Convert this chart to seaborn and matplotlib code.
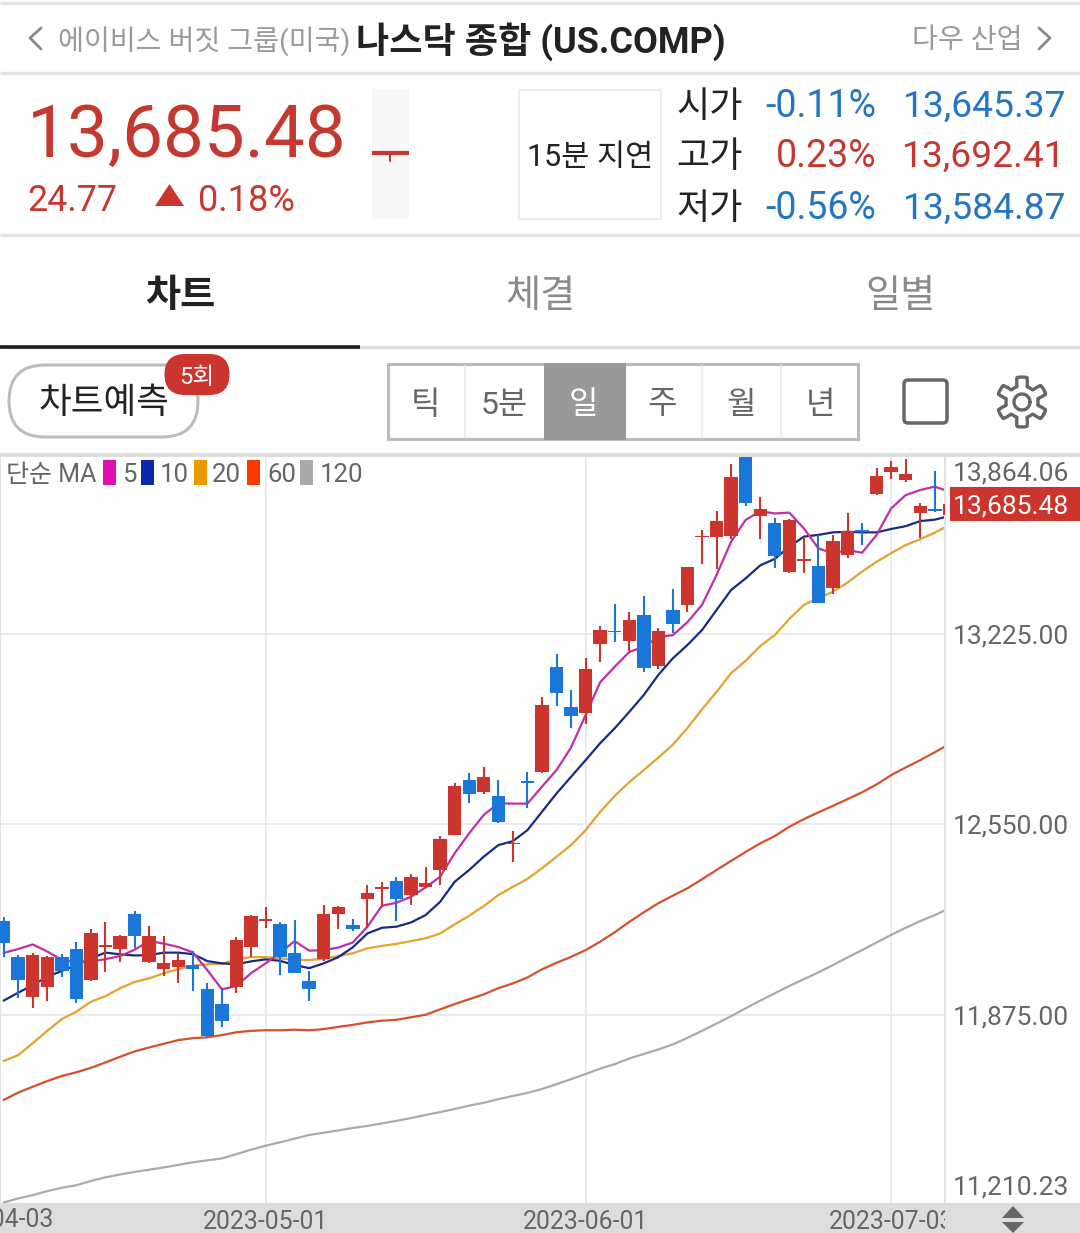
import numpy as np
import matplotlib
matplotlib.use('Agg')
import matplotlib.pyplot as plt
from matplotlib.patches import Rectangle, FancyBboxPatch, Polygon
import seaborn as sns

# daily candles, 2023-04-04 onwards
opens = [12207, 12081, 11940, 11975, 12079, 12110, 11999, 12117, 12109, 12234, 12064, 12039, 12046, 12052, 11968, 11913,
         11973, 12117, 12208, 12197, 12096, 11996, 12072, 12233, 12195, 12287, 12322, 12350, 12300, 12327, 12389, 12514,
         12707, 12664, 12651, 12481, 12704, 12736, 13107, 12965, 12946, 13190, 13235, 13200, 13293, 13112, 13311, 13328,
         13567, 13570, 13573, 13894, 13643, 13619, 13443, 13484, 13467, 13389, 13506, 13593, 13720, 13800, 13770, 13652,
         13667, 13645]
highs = [12223, 12087, 12096, 12084, 12090, 12132, 12179, 12204, 12158, 12244, 12190, 12155, 12093, 12103, 11989, 11966,
         12152, 12228, 12259, 12205, 12211, 12032, 12265, 12263, 12214, 12337, 12345, 12363, 12374, 12400, 12511, 12696,
         12731, 12755, 12707, 12528, 12736, 13000, 13153, 13026, 13139, 13254, 13330, 13304, 13360, 13247, 13384, 13463,
         13593, 13660, 13826, 13930, 13709, 13636, 13631, 13567, 13576, 13576, 13652, 13617, 13814, 13838, 13844, 13688,
         13803, 13692]
lows = [12081, 11934, 11901, 11926, 12011, 11916, 11995, 12027, 12064, 12111, 12060, 12013, 11987, 11961, 11798, 11833,
        11952, 12079, 12182, 12017, 12023, 11926, 12067, 12179, 12174, 12182, 12259, 12209, 12265, 12325, 12335, 12512,
        12625, 12657, 12554, 12416, 12607, 12731, 12970, 12891, 12905, 13127, 13195, 13165, 13090, 13101, 13227, 13302,
        13473, 13456, 13561, 13679, 13561, 13460, 13441, 13442, 13334, 13367, 13494, 13540, 13717, 13773, 13764, 13566,
        13658, 13585]
closes = [12129, 11999, 12087, 12081, 12032, 11931, 12164, 12123, 12156, 12154, 12156, 12058, 12071, 12038, 11800, 11855,
          12141, 12226, 12214, 12079, 12025, 11968, 12233, 12256, 12181, 12306, 12328, 12285, 12364, 12341, 12498, 12687,
          12658, 12719, 12560, 12485, 12698, 12974, 13017, 12935, 13100, 13239, 13231, 13274, 13105, 13236, 13259, 13461,
          13572, 13625, 13781, 13690, 13667, 13502, 13629, 13491, 13336, 13554, 13589, 13586, 13785, 13815, 13791, 13677,
          13660, 13685]

ma5 = [12095, 12109, 12125, 12100, 12070, 12063, 12064, 12073, 12084, 12106, 12137, 12128, 12116, 12097, 12034, 11966,
       11978, 12023, 12058, 12095, 12137, 12103, 12105, 12114, 12132, 12188, 12262, 12273, 12294, 12327, 12365, 12448,
       12519, 12584, 12625, 12624, 12624, 12684, 12743, 12823, 12938, 13054, 13109, 13161, 13180, 13214, 13221, 13267,
       13328, 13434, 13552, 13629, 13660, 13652, 13655, 13599, 13528, 13511, 13522, 13513, 13576, 13670, 13717, 13735,
       13747, 13729]
ma10 = [11926, 11954, 11981, 12011, 12031, 12052, 12076, 12096, 12090, 12086, 12087, 12096, 12096, 12091, 12066, 12058,
        12055, 12065, 12072, 12067, 12052, 12041, 12058, 12080, 12115, 12164, 12184, 12188, 12203, 12229, 12276, 12347,
        12389, 12436, 12477, 12491, 12530, 12595, 12660, 12719, 12778, 12838, 12891, 12949, 13009, 13080, 13139, 13186,
        13239, 13310, 13381, 13422, 13468, 13491, 13534, 13570, 13576, 13585, 13587, 13585, 13585, 13597, 13607, 13625,
        13630, 13643]
ma20 = [11712, 11733, 11775, 11819, 11861, 11887, 11922, 11942, 11970, 11992, 12005, 12023, 12038, 12049, 12055, 12057,
        12072, 12080, 12080, 12076, 12070, 12070, 12074, 12084, 12094, 12111, 12120, 12127, 12137, 12147, 12164, 12196,
        12227, 12261, 12300, 12329, 12357, 12395, 12436, 12477, 12530, 12595, 12651, 12700, 12743, 12787, 12833, 12892,
        12958, 13020, 13086, 13130, 13182, 13221, 13278, 13328, 13352, 13375, 13407, 13446, 13481, 13511, 13540, 13561,
        13584, 13611]
ma60 = [11574, 11600, 11621, 11641, 11659, 11672, 11688, 11707, 11727, 11746, 11760, 11773, 11786, 11793, 11796, 11804,
        11814, 11819, 11821, 11821, 11823, 11821, 11825, 11833, 11840, 11849, 11855, 11858, 11867, 11876, 11895, 11914,
        11931, 11948, 11970, 11987, 12008, 12037, 12060, 12081, 12105, 12135, 12168, 12205, 12239, 12271, 12298, 12324,
        12356, 12389, 12421, 12453, 12483, 12509, 12542, 12569, 12593, 12616, 12640, 12664, 12692, 12725, 12752, 12778,
        12806, 12835]
ma120 = [11211, 11225, 11237, 11251, 11263, 11272, 11287, 11300, 11310, 11319, 11327, 11335, 11344, 11353, 11360, 11367,
         11382, 11398, 11412, 11424, 11437, 11450, 11458, 11466, 11475, 11482, 11491, 11500, 11510, 11521, 11531, 11542,
         11554, 11564, 11577, 11588, 11599, 11613, 11630, 11648, 11666, 11685, 11701, 11721, 11737, 11753, 11771, 11794,
         11819, 11845, 11871, 11899, 11926, 11952, 11978, 12002, 12026, 12052, 12079, 12105, 12132, 12159, 12184, 12208,
         12229, 12253]

price_ticks = [13225, 12550, 11875]
price_labels = ['13,225.00', '12,550.00', '11,875.00']
date_ticks = [18, 40, 61]
date_labels = ['2023-05-01', '2023-06-01', '2023-07-03']
ma_periods = ['5', '10', '20', '60', '120']

RED = '#cb352d'
BLUE = '#1a76d8'
TXT_BLUE = '#2475c4'
TXT_RED = '#c5382f'
DARK = '#222222'
GRAY_TXT = '#9a9a9a'
AXIS_TXT = '#666666'
LINE = '#e4e4e4'
ma_colors = ['#c02fa8', '#172c82', '#e2a332', '#d6502b', '#aaaaaa']
legend_colors = ['#e010b0', '#0a28a8', '#ea9a00', '#ff3a00', '#aaaaaa']

sns.set_style('white')
plt.rcParams['font.family'] = ['Roboto', 'Noto Sans CJK KR', 'DejaVu Sans']

W, H = 1080, 1233
fig = plt.figure(figsize=(W / 100, H / 100), dpi=100, facecolor='white')


def px_axes(z):
    a = fig.add_axes([0, 0, 1, 1], zorder=z)
    a.set_xlim(0, W)
    a.set_ylim(H, 0)
    a.axis('off')
    a.patch.set_alpha(0)
    return a


back = px_axes(0)
back.add_patch(Rectangle((0, 1203), W, 30, color='#dddddd', lw=0))

# ── chart ──
ax = fig.add_axes([0, 1 - 1203 / H, 945 / W, 746 / H], zorder=1)
ax.patch.set_alpha(0)
idx = np.arange(len(opens))
for ma, c in zip([ma120, ma60, ma20, ma10, ma5], ma_colors[::-1]):
    sns.lineplot(x=idx, y=ma, color=c, linewidth=1.6, ax=ax, legend=False, zorder=2)

o = np.array(opens)
cl = np.array(closes)
colors = [RED if c >= op else BLUE for op, c in zip(o, cl)]
ax.vlines(idx, lows, highs, colors=colors, linewidth=1.5, zorder=3)
ax.bar(idx, np.abs(cl - o), bottom=np.minimum(o, cl), width=0.92, color=colors, linewidth=0, zorder=4)

ax.set_xlim(-0.25, 64.7)
ax.set_ylim(11209, 13852)
ax.yaxis.tick_right()
ax.set_yticks(price_ticks, price_labels, fontsize=19, color=AXIS_TXT)
ax.set_xticks(date_ticks, date_labels, fontsize=17.9, color=AXIS_TXT)
ax.tick_params(axis='y', length=0, pad=5.5)
ax.tick_params(axis='x', length=0, pad=5)
ax.grid(True, color='#e6e6e6', linewidth=1.1, zorder=0)
for name, sp in ax.spines.items():
    sp.set_visible(name in ('left', 'right'))
    sp.set_color('#e2e2e2')
    sp.set_linewidth(1.4)
ax.text(-0.8, -0.0228, '2023-04-03', transform=ax.get_xaxis_transform(), ha='center', va='center',
        fontsize=17.9, color=AXIS_TXT, clip_on=False)

# ── screen furniture, in pixels ──
ui = px_axes(2)


def hline(y, x0, x1, color=LINE, lw=2.2):
    ui.plot([x0, x1], [y, y], color=color, lw=lw, solid_capstyle='butt')


def txt(x, y, s, size, color=DARK, ha='left', **kw):
    ui.text(x, y, s, fontsize=size, color=color, ha=ha, va='center_baseline', **kw)


ui.add_patch(Rectangle((945, 1203), 135, 30, color='#dddddd', lw=0))
hline(3, 0, W, lw=2.4)
hline(73, 0, W, lw=2.4)
hline(235, 0, W, lw=2.4)
hline(347, 0, W, color='#dddddd', lw=2.4)
hline(347, 0, 360, color='#1e1e1e', lw=2.6)
hline(455, 0, W, color='#dddddd', lw=2.8)

# top bar
ui.plot([41, 30, 41], [28, 38, 49], color='#8a8a8a', lw=2)
ui.plot([1039, 1050, 1039], [28, 38, 49], color='#8a8a8a', lw=2)
txt(58, 38, '에이비스 버짓 그룹(미국)', 20.3, GRAY_TXT)
txt(356, 37, '나스닥 종합 (US.COMP)', 26, DARK, fontweight='bold')
txt(912, 38, '다우 산업', 20.3, GRAY_TXT)

# quote block
txt(27, 130, '13,685.48', 52.4, TXT_RED)
txt(27, 197, '24.77', 25.8, TXT_RED)
ui.add_patch(Polygon([[155, 206], [184, 206], [169.5, 184]], color=RED, lw=0))
txt(198, 197, '0.18%', 26, TXT_RED)
ui.add_patch(Rectangle((372, 89), 37, 130, color='#f7f7f7', lw=0))
hline(153, 372, 409, color=RED, lw=3)
ui.plot([390, 390], [153, 161], color=RED, lw=1.5)
ui.add_patch(Rectangle((519, 90), 142, 129, fc='white', ec='#eeeeee', lw=1.6))
txt(590, 155, '15분 지연', 22, DARK, ha='center')
rows = [(103, '시가', '-0.11%', '13,645.37', TXT_BLUE), (153, '고가', '0.23%', '13,692.41', TXT_RED),
        (205, '저가', '-0.56%', '13,584.87', TXT_BLUE)]
for y, name, pct, val, c in rows:
    txt(676, y + 0.5, name, 26, DARK)
    txt(876, y - 0.5, pct, 27, c, ha='right')
    txt(1066, y - 0.5, val, 26.8, c, ha='right')

# tabs
txt(180, 292, '차트', 27.5, DARK, ha='center', fontweight='bold')
txt(540, 292, '체결', 27.5, '#8a8a8a', ha='center')
txt(900, 292, '일별', 27.5, '#8a8a8a', ha='center')

# forecast pill and badge
ui.add_patch(FancyBboxPatch((45, 401), 117, 0, boxstyle='round,pad=36,rounding_size=36', fc='white', ec='#bdbdbd', lw=2.2))
txt(104, 399, '차트예측', 25.6, DARK, ha='center')
ui.add_patch(FancyBboxPatch((185, 374.5), 24, 0, boxstyle='round,pad=20.5,rounding_size=20.5', fc=RED, ec='none'))
txt(197, 375, '5회', 17, 'white', ha='center')

# period selector
ui.add_patch(Rectangle((388, 364), 470, 75, fc='white', ec='#bbbbbb', lw=2.2))
ui.add_patch(Rectangle((544, 363), 82, 77, color='#999999', lw=0))
for x in [465, 702, 781]:
    ui.plot([x, x], [366, 437], color='#eeeeee', lw=1.5)
for x, s in zip([425, 504, 583, 662, 741, 820], ['틱', '5분', '일', '주', '월', '년']):
    txt(x, 402, s, 23, 'white' if s == '일' else AXIS_TXT, ha='center')

# full screen and settings icons
ui.add_patch(FancyBboxPatch((904, 380), 43, 43, boxstyle='round,pad=0,rounding_size=4', fc='none', ec='#666666', lw=2.5))
ang = np.radians(np.arange(0, 361, 2) + 30)
rad = 20.5 + 4.5 * np.clip(3 * np.cos(6 * (ang - np.radians(30))), -1, 1)
ui.plot(1022 + rad * np.cos(ang), 402 + rad * np.sin(ang), color='#666666', lw=2.4)
a2 = np.radians(np.arange(0, 361, 6))
ui.plot(1022 + 8 * np.cos(a2), 402 + 8 * np.sin(a2), color='#666666', lw=2.4)

# moving average legend
txt(6, 472, '단순 MA', 18, AXIS_TXT)
for x0, xt, lab, c in zip([103, 141, 194, 247, 300], [122, 160, 212, 267, 320], ma_periods, legend_colors):
    ui.add_patch(Rectangle((x0, 460), 13, 25, color=c, lw=0))
    txt(xt, 472, lab, 18.5, AXIS_TXT)

# price labels outside the tick set
txt(953, 470.5, '13,864.06', 19, AXIS_TXT)
txt(953, 1184.5, '11,210.23', 19, AXIS_TXT)
ui.add_patch(Rectangle((950, 487), 130, 34, color=RED, lw=0))
txt(953, 504, '13,685.48', 19, 'white')

# sort arrows in the date bar
ui.add_patch(Polygon([[1002, 1218], [1024, 1218], [1013, 1206]], color='#666666', lw=0))
ui.add_patch(Polygon([[1002, 1222], [1024, 1222], [1013, 1233]], color='#666666', lw=0))

fig.savefig('out.png', dpi=100)
